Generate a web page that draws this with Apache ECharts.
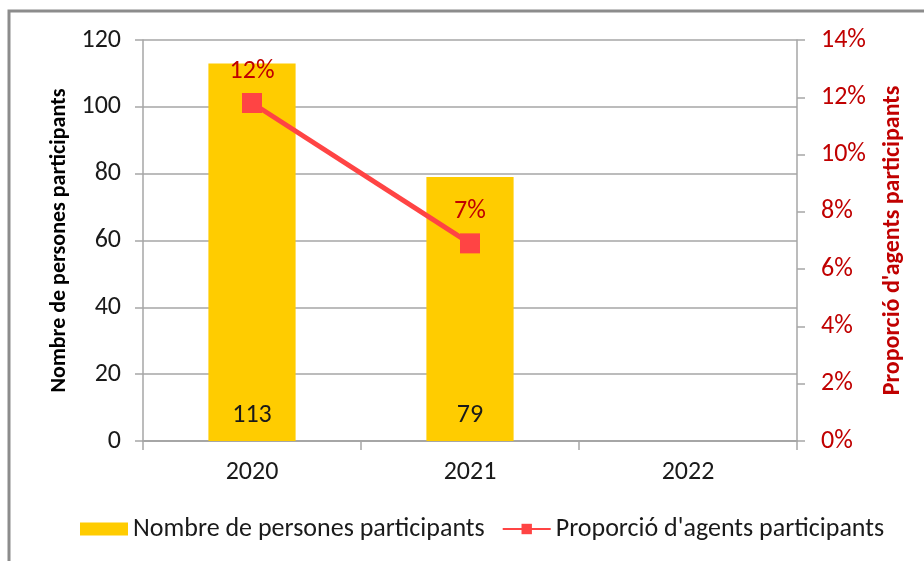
<!DOCTYPE html>
<html>
<head>
<meta charset="utf-8">
<script src="https://cdn.jsdelivr.net/npm/echarts@6/dist/echarts.min.js"></script>
<style>
  html, body { margin: 0; padding: 0; background: #fff; }
  #chart { width: 924px; height: 561px; }
</style>
</head>
<body>
<div id="chart"></div>
<script>
var years = ["2020", "2021", "2022"];
var persones = [113, 79, null];
var proporcio = [11.8, 6.9, null];
var proporcioLabels = ["12%", "7%", ""];

var font = "Carlito, 'Liberation Sans', Arial, sans-serif";
var darkRed = "#C00000";

var myChart = echarts.init(document.getElementById("chart"));

var option = {
  animation: false,
  textStyle: { fontFamily: font },
  graphic: [{
    type: "rect",
    shape: { x: 9, y: 11, width: 1000, height: 1000 },
    style: { fill: "none", stroke: "#8c8c8c", lineWidth: 3 },
    silent: true
  }],
  grid: { left: 143, right: 127, top: 40, bottom: 120 },
  legend: {
    left: 75,
    top: 511,
    itemWidth: 48,
    itemHeight: 13,
    itemGap: 17,
    textStyle: { fontSize: 26, color: "#1a1a1a", fontFamily: font },
    data: [
      { name: "Nombre de persones participants", icon: "rect" },
      { name: "Proporció d'agents participants" }
    ]
  },
  xAxis: {
    type: "category",
    data: years,
    axisLine: { lineStyle: { color: "#a6a6a6", width: 2 } },
    axisTick: { show: true, length: 9, lineStyle: { color: "#a6a6a6", width: 1.5 } },
    axisLabel: { fontSize: 26, color: "#1a1a1a", margin: 18 }
  },
  yAxis: [{
    type: "value",
    min: 0, max: 120, interval: 20,
    name: "Nombre de persones participants",
    nameLocation: "middle",
    nameGap: 72,
    nameTextStyle: { fontSize: 22, fontWeight: "bold", color: "#000" },
    axisLine: { show: true, lineStyle: { color: "#a6a6a6", width: 1.5 } },
    axisTick: { show: true, length: 8, lineStyle: { color: "#a6a6a6", width: 1.5 } },
    axisLabel: { fontSize: 26, color: "#1a1a1a", margin: 22 },
    splitLine: { lineStyle: { color: "#a6a6a6", width: 1.5 } }
  }, {
    type: "value",
    min: 0, max: 14, interval: 2,
    position: "right",
    name: "Proporció d'agents participants",
    nameLocation: "middle",
    nameGap: 84,
    nameRotate: 90,
    nameTextStyle: { fontSize: 24, fontWeight: "bold", color: darkRed },
    axisLine: { show: true, lineStyle: { color: "#a6a6a6", width: 1.5 } },
    axisTick: { show: true, length: 8, lineStyle: { color: "#a6a6a6", width: 1.5 } },
    axisLabel: { fontSize: 26, color: darkRed, margin: 24, formatter: "{value}%" },
    splitLine: { show: false }
  }],
  series: [{
    name: "Nombre de persones participants",
    type: "bar",
    data: persones,
    barWidth: "40%",
    itemStyle: { color: "#FFCC00" },
    label: {
      show: true,
      position: "insideBottom",
      distance: 13,
      fontSize: 26,
      color: "#1a1a1a"
    }
  }, {
    name: "Proporció d'agents participants",
    type: "line",
    yAxisIndex: 1,
    data: proporcio,
    symbol: "rect",
    symbolSize: 20,
    lineStyle: { color: "#FF4444", width: 5 },
    itemStyle: { color: "#FF4444" },
    label: {
      show: true,
      position: "top",
      distance: 9,
      fontSize: 26,
      color: darkRed,
      formatter: function (p) { return proporcioLabels[p.dataIndex]; }
    }
  }]
};

myChart.setOption(option);
</script>
</body>
</html>
